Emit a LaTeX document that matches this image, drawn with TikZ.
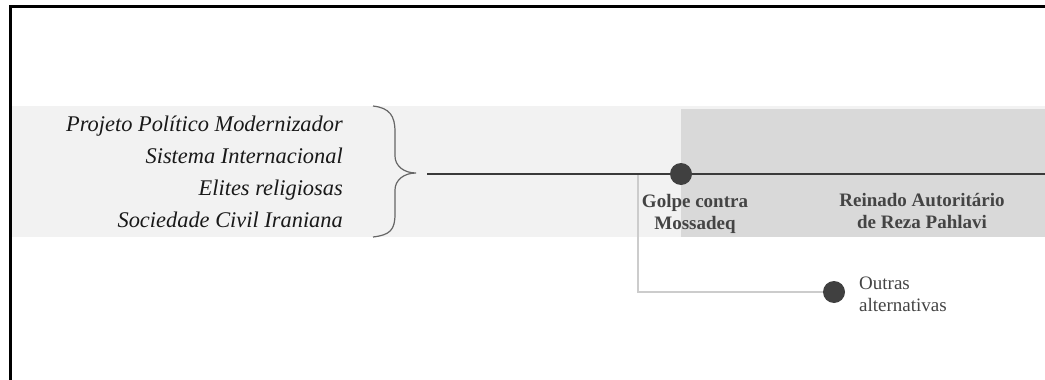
\documentclass[tikz,border=0pt]{standalone}
\usepackage{fontspec}
\setmainfont{Liberation Serif}
\usetikzlibrary{positioning}

\definecolor{bandlight}{HTML}{F2F2F2}
\definecolor{banddark}{HTML}{D9D9D9}
\definecolor{linedark}{HTML}{3A3A3A}
\definecolor{dotgray}{HTML}{404040}
\definecolor{branchgray}{HTML}{CCCCCC}
\definecolor{bracegray}{HTML}{666666}
\definecolor{textgray}{HTML}{444444}

\begin{document}
\begin{tikzpicture}[x=1pt, y=-1pt,
        factor/.style={anchor=base east, inner sep=0pt, font=\fontsize{22.4}{26}\selectfont\itshape, text=black!90},
        event/.style={circle, fill=dotgray, minimum size=22pt, inner sep=0pt},
        evlabel/.style={align=center, inner sep=0pt, font=\fontsize{19}{22}\selectfont\bfseries, text=textgray},
        altlabel/.style={align=left, anchor=west, inner sep=0pt, font=\fontsize{19}{22}\selectfont, text=textgray},
        timeline/.style={line width=2.4pt, draw=linedark},
        branch/.style={line width=1.5pt, draw=branchgray}
    ]
        \useasboundingbox (0,0) rectangle (1045,380);

        % Background bands
        \fill[bandlight] (12,106) rectangle (1045,237);
        \fill[banddark] (681,109) rectangle (1045,237);

        % Frame
        \draw[line width=3pt] (10.5,380) -- (10.5,6.5) -- (1045,6.5);

        % Factors
        \foreach \txt [count=\i] in {Projeto Político Modernizador, Sistema Internacional, Elites religiosas, Sociedade Civil Iraniana} {
            \node[factor] (factor\i) at (343, 99+32*\i) {\txt};
        }

        % Brace
        \draw[bracegray, line width=1.2pt] (373,106) .. controls (390,108) and (395,116) .. (395,132)
            -- (395,156) .. controls (395,166) and (404,173) .. (416,173)
            .. controls (404,173) and (395,180) .. (395,190)
            -- (395,214) .. controls (395,230) and (390,235) .. (373,237);

        % Branch to alternatives
        \coordinate (split) at (638,174);
        \coordinate (alt) at (834,292);
        \draw[branch] (split) |- (alt);

        % Timeline
        \coordinate (start) at (427,174);
        \coordinate (end) at (1045,174);
        \draw[timeline] (start) -- (end);

        % Events
        \node[event] (golpe) at (681,174) {};
        \node[event] (outras) at (alt) {};

        % Labels
        \node[evlabel] (golpelbl) at (695,214) {Golpe contra\\Mossadeq};
        \node[evlabel] (reinado) at (922,211) {Reinado Autoritário\\de Reza Pahlavi};
        \node[altlabel] (outraslbl) at (859,294) {Outras\\alternativas};

    \end{tikzpicture}
\end{document}
